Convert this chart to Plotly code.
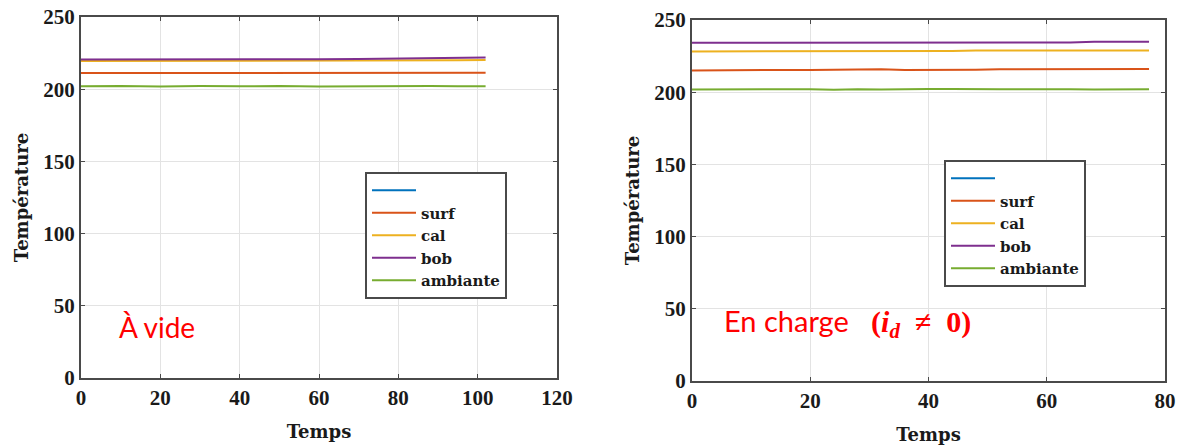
import plotly.graph_objects as go
from plotly.subplots import make_subplots

# ---- data ----
series_names = ["", "surf", "cal", "bob", "ambiante"]
series_colors = ["#0072BD", "#D95319", "#EDB120", "#7E2F8E", "#77AC30"]

time_vide = [0, 10, 20, 30, 40, 50, 60, 70, 80, 88, 95, 102]
surf_vide = [211.2, 211.2, 211.3, 211.2, 211.3, 211.3, 211.2, 211.3, 211.3, 211.4, 211.4, 211.4]
cal_vide = [219.5, 219.5, 219.5, 219.5, 219.6, 219.6, 219.7, 219.8, 219.9, 220.0, 220.0, 220.2]
bob_vide = [220.5, 220.5, 220.3, 220.5, 220.4, 220.6, 220.8, 221.0, 221.2, 221.8, 222.0, 222.0]
amb_vide = [202.0, 202.3, 201.8, 202.2, 202.0, 202.3, 201.9, 202.2, 202.0, 202.3, 202.0, 202.1]

time_charge = [0, 4, 8, 12, 16, 20, 24, 28, 32, 36, 40, 44, 48, 52, 56, 60, 64, 68, 72, 77.3]
surf_charge = [215.0, 215.2, 215.3, 215.3, 215.4, 215.3, 215.4, 215.3, 215.9, 215.4,
               215.3, 215.4, 215.6, 215.9, 216.0, 215.8, 216.0, 215.9, 216.0, 216.0]
cal_charge = [228.2, 228.2, 228.2, 228.3, 228.2, 228.2, 228.3, 228.2, 228.3, 228.2,
              228.4, 228.6, 228.8, 228.7, 228.9, 228.8, 228.7, 228.8, 228.9, 228.8]
bob_charge = [234.2, 234.2, 234.3, 234.2, 234.3, 234.3, 234.5, 234.3, 234.3, 234.4,
              234.3, 234.4, 234.3, 234.4, 234.3, 234.4, 234.5, 234.9, 235.0, 235.0]
amb_charge = [201.9, 202.0, 201.8, 202.1, 201.9, 202.0, 201.7, 202.1, 201.9, 202.2,
              202.3, 202.2, 201.9, 202.0, 202.1, 201.8, 202.0, 201.9, 202.1, 202.0]

x_ticks_vide = [0, 20, 40, 60, 80, 100, 120]
x_ticks_charge = [0, 20, 40, 60, 80]
y_ticks = [0, 50, 100, 150, 200, 250]

fig = make_subplots(rows=1, cols=2)

panels = [
    (1, "legend", time_vide, [None, surf_vide, cal_vide, bob_vide, amb_vide]),
    (2, "legend2", time_charge, [None, surf_charge, cal_charge, bob_charge, amb_charge]),
]
for col, leg, t, vals in panels:
    for name, color, v in zip(series_names, series_colors, vals):
        if v is None:
            xs, ys = [None], [None]
        else:
            xs, ys = t, v
        fig.add_trace(go.Scatter(x=xs, y=ys, mode="lines", name=name if name else " ",
                                 line=dict(color=color, width=2), legend=leg,
                                 showlegend=True), row=1, col=col)

serif = "Liberation Serif"
wide_serif = "DejaVu Serif"
axis_common = dict(showgrid=True, gridcolor="#e3e3e3", gridwidth=1, showline=True,
                   linecolor="#4a4a4a", linewidth=2, mirror="ticks", ticks="inside",
                   ticklen=4, tickcolor="#4a4a4a", zeroline=False, automargin=False,
                   tickfont=dict(family=serif, size=21, color="#1a1a1a", weight="bold"))

fig.update_xaxes(axis_common)
fig.update_yaxes(axis_common)

title_font = dict(family=wide_serif, size=18, color="#1a1a1a", weight="bold")
leg_font = dict(family=wide_serif, size=15, color="#1a1a1a", weight="bold")

fig.update_layout(
    width=1183, height=445, margin=dict(l=0, r=0, t=0, b=0),
    plot_bgcolor="white", paper_bgcolor="white",
    font=dict(family=serif, color="#1a1a1a"),
    xaxis=dict(domain=[81 / 1183, 557 / 1183], range=[0, 120], tickvals=x_ticks_vide,
               title=dict(text="Temps", font=title_font, standoff=16)),
    xaxis2=dict(domain=[692 / 1183, 1165 / 1183], range=[0, 80], tickvals=x_ticks_charge,
                title=dict(text="Temps", font=title_font, standoff=16)),
    yaxis=dict(domain=[1 - 378 / 445, 1 - 17 / 445], range=[0, 250], tickvals=y_ticks,
               title=dict(text="Température", font=title_font, standoff=10)),
    yaxis2=dict(domain=[1 - 381 / 445, 1 - 20 / 445], range=[0, 250], tickvals=y_ticks,
                title=dict(text="Température", font=title_font, standoff=10)),
    legend=dict(x=365 / 1183, y=1 - 172 / 445, xanchor="left", yanchor="top",
                bgcolor="white", bordercolor="#4a4a4a", borderwidth=2,
                font=leg_font, tracegroupgap=0, itemwidth=44),
    legend2=dict(x=944 / 1183, y=1 - 160 / 445, xanchor="left", yanchor="top",
                 bgcolor="white", bordercolor="#4a4a4a", borderwidth=2,
                 font=leg_font, tracegroupgap=0, itemwidth=44),
    showlegend=True,
)

fig.add_annotation(text="À vide", xref="paper", yref="paper",
                   x=117 / 1183, y=1 - 327 / 445, xanchor="left", yanchor="middle",
                   showarrow=False, font=dict(family="Lato", size=28, color="#ff0000"))
fig.add_annotation(text="En charge\u00a0\u00a0\u00a0<span style='font-family:Liberation Serif;font-size:30px'><b>(<i>i</i><sub><i>d</i></sub>\u00a0\u00a0≠\u00a0\u00a00)</b></span>",
                   xref="paper", yref="paper",
                   x=722 / 1183, y=1 - 323 / 445, xanchor="left", yanchor="middle",
                   showarrow=False, font=dict(family="Lato", size=29, color="#ff0000"))

fig.write_html("out.html", config={"displayModeBar": False},
               post_script="document.body.style.margin='0';")
